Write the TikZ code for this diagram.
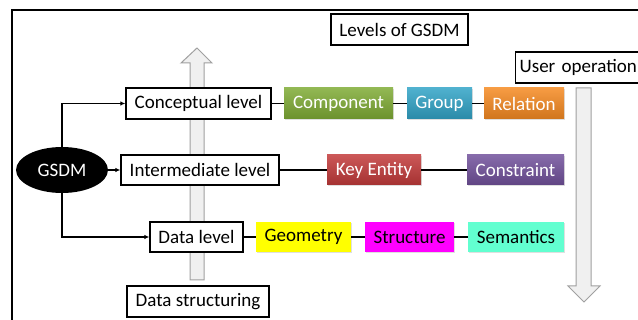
\documentclass[tikz,border=0pt]{standalone}
\usepackage{fontspec}
\setmainfont{Carlito}
\usetikzlibrary{arrows.meta,shapes.geometric,shadows}
\definecolor{cgreen}{HTML}{7FAB35}
\definecolor{cblue}{HTML}{31A3C6}
\definecolor{corange}{HTML}{F58A22}
\definecolor{cred}{HTML}{C23A3A}
\definecolor{cpurple}{HTML}{71519B}
\definecolor{cyellow}{HTML}{FFFF00}
\definecolor{cmagenta}{HTML}{FF00FF}
\definecolor{caqua}{HTML}{62FFD0}
\definecolor{agray}{HTML}{F0F0F0}
\definecolor{aedge}{HTML}{A0A0A0}
\tikzset{
  txt/.style={font=\fontsize{19}{21}\selectfont},
  lvl/.style={txt, draw=black, line width=1.3pt, fill=white, inner sep=0pt, minimum height=31pt},
  item/.style={txt, inner sep=0pt, minimum height=31pt, text=white,
    drop shadow={shadow xshift=1pt, shadow yshift=-1.2pt, opacity=0.25}},
  itemdark/.style={item, text=black},
  link/.style={line width=1.3pt},
  feed/.style={line width=1.3pt, -{Latex[length=5pt,width=4.5pt]}},
  bigarrow/.style={fill=agray, draw=aedge, line width=1pt, line join=miter},
}
\begin{document}
\begin{tikzpicture}[x=1pt,y=-1pt]
\useasboundingbox (0,0) rectangle (638,320);
\fill[white] (0,0) rectangle (638,320);
% outer frame
\draw[line width=1.2pt] (12,330) -- (12,10) -- (650,10);
% direction arrows
\draw[bigarrow] (190,280) -- (190,63) -- (181,63) -- (197,48) -- (212,63) -- (204,63) -- (204,280) -- cycle;
\draw[bigarrow] (576,88) -- (576,286) -- (568,286) -- (584,302) -- (600,286) -- (591,286) -- (591,88) -- cycle;
% titles
\node[lvl, minimum width=137pt] (levels) at (399.5,29.5) {Levels of GSDM};
\node[lvl, anchor=west, inner xsep=4pt, minimum width=140pt, align=left, text width=132pt] (userop) at (515,67.5) {User operation};
\node[lvl, minimum width=142pt] (datastr) at (198,301.5) {Data structuring};
% root
\node[ellipse, fill=black, text=white, txt, minimum width=92pt, minimum height=46pt, inner sep=0pt] (gsdm) at (62,170) {GSDM};
% levels
\node[lvl, minimum width=145pt] (concept) at (198.5,103.5) {Conceptual level};
\node[lvl, minimum width=158pt, minimum height=30pt] (inter) at (200,170) {Intermediate level};
\node[lvl, minimum width=93pt, minimum height=30pt] (datalvl) at (196.5,237) {Data level};
% conceptual level items
\node[item, top color=cgreen!85!white, bottom color=cgreen!85!black, minimum width=109pt] (component) at (338.5,103.5) {Component};
\node[item, top color=cblue!85!white, bottom color=cblue!85!black, minimum width=65pt] (group) at (439.5,103.5) {Group};
\node[item, top color=corange!85!white, bottom color=corange!85!black, minimum width=80pt] (relation) at (524,103.5) {Relation};
% intermediate level items
\node[item, top color=cred!85!white, bottom color=cred!85!black, minimum width=94pt, minimum height=30pt] (keyent) at (374,170) {Key Entity};
\node[item, top color=cpurple!85!white, bottom color=cpurple!85!black, minimum width=97pt, minimum height=30pt] (constr) at (515.5,170) {Constraint};
% data level items
\node[itemdark, fill=cyellow, minimum width=95pt, minimum height=30pt] (geom) at (303.5,237) {Geometry};
\node[itemdark, fill=cmagenta, minimum width=89pt, minimum height=30pt] (struct) at (409.5,237) {Structure};
\node[itemdark, fill=caqua, minimum width=96pt, minimum height=30pt] (seman) at (516,237) {Semantics};
% root to levels
\draw[feed] (gsdm.north) |- (concept.west);
\draw[feed] (gsdm.east) -- (inter.west);
\draw[feed] (gsdm.south) |- (datalvl.west);
% chains
\draw[link] (concept) -- (component);
\draw[link] (component) -- (group);
\draw[link] (group) -- (relation);
\draw[link] (inter) -- (keyent);
\draw[link] (keyent) -- (constr);
\draw[link] (datalvl) -- (geom);
\draw[link] (geom) -- (struct);
\draw[link] (struct) -- (seman);
\end{tikzpicture}
\end{document}
